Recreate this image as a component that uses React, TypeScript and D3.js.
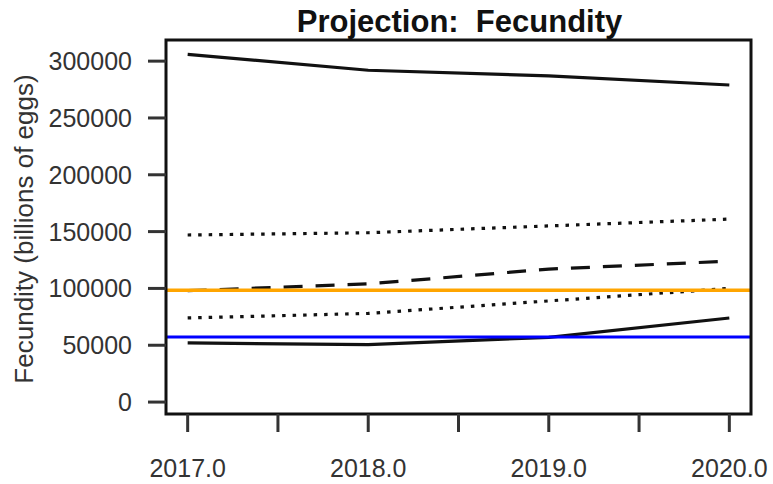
import React from "react";
import * as d3 from "d3";

const years = [2017, 2018, 2019, 2020];
const upperSolid = [306000, 292000, 287000, 279000];
const upperDotted = [147000, 149000, 155000, 161000];
const median = [98000, 104000, 117000, 124000];
const lowerDotted = [74000, 78000, 89000, 100000];
const lowerSolid = [52000, 50500, 57000, 74000];
const refOrange = 98500;
const refBlue = 57200;
const yTicks = [0, 50000, 100000, 150000, 200000, 250000, 300000];
const xMajor = [2017, 2018, 2019, 2020];
const xMinor = [2017.5, 2018.5, 2019.5];

const W = 773, H = 484;
const L = 166, R = 751, T = 40, B = 414;

export default function App() {
  const x = d3.scaleLinear().domain([2016.88, 2020.12]).range([L, R]);
  const y = d3.scaleLinear().domain([-10500, 318600]).range([B, T]);
  const line = d3.line<number>().x((_, i) => x(years[i])).y((d) => y(d));
  const font = "'Liberation Sans', Arial, sans-serif";
  const series = [
    { d: upperSolid, dash: undefined },
    { d: upperDotted, dash: "3.5 7" },
    { d: median, dash: "19 13" },
    { d: lowerDotted, dash: "3.5 7" },
    { d: lowerSolid, dash: undefined },
  ];
  return (
    <div style={{ position: "absolute", left: 0, top: 0 }}>
      <svg width={W} height={H} style={{ display: "block", background: "#fff" }}>
        <text x={(L + R) / 2 + 1} y={32} textAnchor="middle" fontFamily={font} fontWeight="bold" fontSize={31} fill="#111" style={{ whiteSpace: "pre" }}>
          {"Projection:  Fecundity"}
        </text>
        {series.map((s, i) => (
          <path key={i} d={line(s.d) || ""} fill="none" stroke="#111" strokeWidth={3.2} strokeDasharray={s.dash} />
        ))}
        <line x1={L} x2={R} y1={y(refOrange)} y2={y(refOrange)} stroke="#FFA500" strokeWidth={3.5} />
        <line x1={L} x2={R} y1={y(refBlue)} y2={y(refBlue)} stroke="#0000FF" strokeWidth={3} />
        <rect x={L} y={T} width={R - L} height={B - T} fill="none" stroke="#111" strokeWidth={3} />
        {yTicks.map((t) => (
          <g key={t}>
            <line x1={L - 18} x2={L} y1={y(t)} y2={y(t)} stroke="#333" strokeWidth={3} />
            <text x={132} y={y(t)} dy="0.36em" textAnchor="end" fontFamily={font} fontSize={25} fill="#333">
              {t}
            </text>
          </g>
        ))}
        {[...xMajor, ...xMinor].map((t) => (
          <line key={t} x1={x(t)} x2={x(t)} y1={B} y2={B + 18} stroke="#333" strokeWidth={3} />
        ))}
        {xMajor.map((t) => (
          <text key={t} x={x(t)} y={477} textAnchor="middle" fontFamily={font} fontSize={25} fill="#333">
            {t.toFixed(1)}
          </text>
        ))}
        <text transform={`translate(33,${229}) rotate(-90)`} textAnchor="middle" fontFamily={font} fontSize={26} fill="#333">
          Fecundity (billions of eggs)
        </text>
      </svg>
    </div>
  );
}
